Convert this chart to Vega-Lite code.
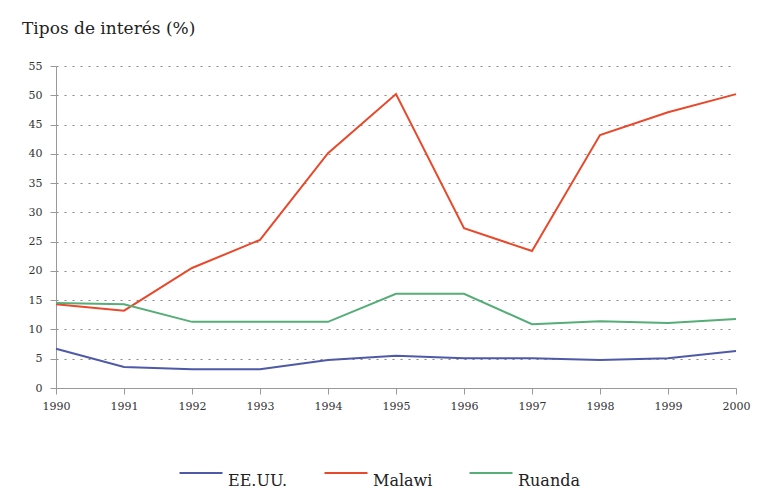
{
  "$schema": "https://vega.github.io/schema/vega-lite/v6.json",
  "width": 680,
  "height": 322,
  "autosize": {"type": "none"},
  "padding": {"left": 56, "top": 66, "right": 33, "bottom": 109},
  "background": "white",
  "title": {
    "text": "Tipos de interés (%)",
    "anchor": "start",
    "frame": "group",
    "dx": -34,
    "offset": 22,
    "font": "DejaVu Serif",
    "fontSize": 17,
    "fontWeight": "normal",
    "color": "#222222"
  },
  "config": {
    "view": {"stroke": null},
    "font": "DejaVu Serif"
  },
  "data": {
    "values": [
      {"year": 1990, "country": "EE.UU.", "rate": 6.7},
      {"year": 1991, "country": "EE.UU.", "rate": 3.6},
      {"year": 1992, "country": "EE.UU.", "rate": 3.2},
      {"year": 1993, "country": "EE.UU.", "rate": 3.2},
      {"year": 1994, "country": "EE.UU.", "rate": 4.8},
      {"year": 1995, "country": "EE.UU.", "rate": 5.5},
      {"year": 1996, "country": "EE.UU.", "rate": 5.1},
      {"year": 1997, "country": "EE.UU.", "rate": 5.1},
      {"year": 1998, "country": "EE.UU.", "rate": 4.8},
      {"year": 1999, "country": "EE.UU.", "rate": 5.1},
      {"year": 2000, "country": "EE.UU.", "rate": 6.3},
      {"year": 1990, "country": "Malawi", "rate": 14.3},
      {"year": 1991, "country": "Malawi", "rate": 13.2},
      {"year": 1992, "country": "Malawi", "rate": 20.5},
      {"year": 1993, "country": "Malawi", "rate": 25.3},
      {"year": 1994, "country": "Malawi", "rate": 40.1},
      {"year": 1995, "country": "Malawi", "rate": 50.2},
      {"year": 1996, "country": "Malawi", "rate": 27.3},
      {"year": 1997, "country": "Malawi", "rate": 23.4},
      {"year": 1998, "country": "Malawi", "rate": 43.2},
      {"year": 1999, "country": "Malawi", "rate": 47.1},
      {"year": 2000, "country": "Malawi", "rate": 50.2},
      {"year": 1990, "country": "Ruanda", "rate": 14.5},
      {"year": 1991, "country": "Ruanda", "rate": 14.3},
      {"year": 1992, "country": "Ruanda", "rate": 11.3},
      {"year": 1993, "country": "Ruanda", "rate": 11.3},
      {"year": 1994, "country": "Ruanda", "rate": 11.3},
      {"year": 1995, "country": "Ruanda", "rate": 16.1},
      {"year": 1996, "country": "Ruanda", "rate": 16.1},
      {"year": 1997, "country": "Ruanda", "rate": 10.9},
      {"year": 1998, "country": "Ruanda", "rate": 11.4},
      {"year": 1999, "country": "Ruanda", "rate": 11.1},
      {"year": 2000, "country": "Ruanda", "rate": 11.8}
    ]
  },
  "mark": {"type": "line", "strokeWidth": 2},
  "encoding": {
    "x": {
      "field": "year",
      "type": "quantitative",
      "scale": {"domain": [1990, 2000], "nice": false, "zero": false},
      "axis": {
        "title": null,
        "values": [1990, 1991, 1992, 1993, 1994, 1995, 1996, 1997, 1998, 1999, 2000],
        "format": "d",
        "grid": false,
        "domainColor": "#999999",
        "tickColor": "#999999",
        "tickSize": 6,
        "labelPadding": 6,
        "labelFont": "DejaVu Serif",
        "labelFontSize": 11,
        "labelColor": "#333333",
        "labelFlush": false
      }
    },
    "y": {
      "field": "rate",
      "type": "quantitative",
      "scale": {"domain": [0, 55], "nice": false},
      "axis": {
        "title": null,
        "values": [0, 5, 10, 15, 20, 25, 30, 35, 40, 45, 50, 55],
        "grid": true,
        "gridColor": "#888888",
        "gridDash": [2, 6],
        "gridWidth": 1,
        "domainColor": "#999999",
        "tickColor": "#999999",
        "tickSize": 6,
        "labelPadding": 8,
        "labelFont": "DejaVu Serif",
        "labelFontSize": 11,
        "labelColor": "#333333"
      }
    },
    "color": {
      "field": "country",
      "type": "nominal",
      "scale": {
        "domain": ["EE.UU.", "Malawi", "Ruanda"],
        "range": ["#4e5aa8", "#e8492b", "#55ad77"]
      },
      "legend": {
        "title": null,
        "orient": "none",
        "direction": "horizontal",
        "legendX": 122,
        "legendY": 384,
        "symbolType": "stroke",
        "symbolSize": 1850,
        "symbolStrokeWidth": 2,
        "labelFont": "DejaVu Serif",
        "labelFontSize": 16,
        "labelColor": "#222222",
        "labelOffset": 4,
        "labelBaseline": "top",
        "columnPadding": 32
      }
    }
  }
}
